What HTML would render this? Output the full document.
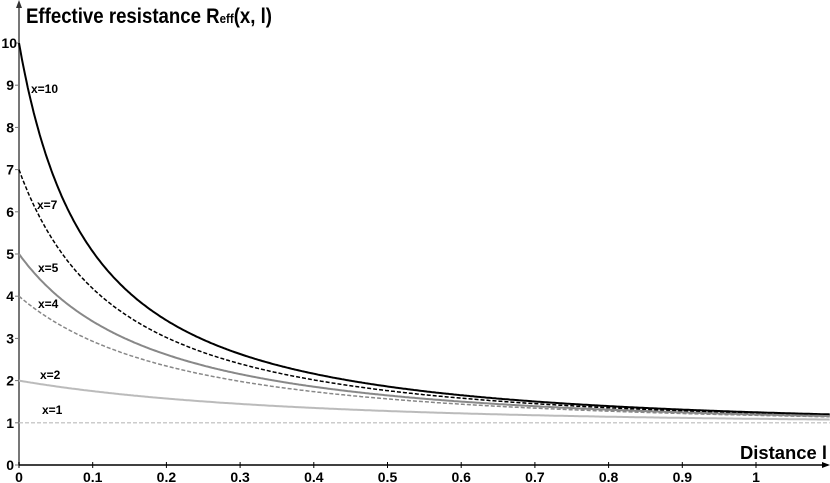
<!DOCTYPE html>
<html><head><meta charset="utf-8"><style>
html,body{margin:0;padding:0;background:#fff;}
svg{display:block;}
text{font-family:"Liberation Sans",Arial,sans-serif;font-weight:bold;}
</style></head><body>
<svg id="s" width="830" height="483" viewBox="0 0 830 483" xmlns="http://www.w3.org/2000/svg">
<line x1="19" y1="465" x2="19" y2="4" stroke="#777" stroke-width="2"/>
<polygon points="19,0 16,8 22,8" fill="#333"/>
<line x1="19" y1="465" x2="828" y2="465" stroke="#000" stroke-width="1.5"/>
<polygon points="830,465 822,462 822,468" fill="#000"/>
<text x="26" y="23" font-size="21" textLength="246" lengthAdjust="spacingAndGlyphs">Effective resistance R<tspan font-size="13">eff</tspan>(x, l)</text>
<text x="740" y="459" font-size="18" textLength="87" lengthAdjust="spacingAndGlyphs">Distance l</text>
<g id="ticks" font-size="14"></g>
<g id="curves" fill="none"></g>
<g font-size="12">
<text x="31" y="93">x=10</text>
<text x="37" y="209">x=7</text>
<text x="38" y="272">x=5</text>
<text x="38" y="308">x=4</text>
<text x="40" y="379">x=2</text>
<text x="42" y="414">x=1</text>
</g>
</svg>
<script>
function X(l){return 19+737*l;} function Y(r){return 465-42.2*r;}
var t=document.getElementById("ticks"),h="";
for(var i=0;i<=10;i++){var y=Y(i);h+='<line x1="15" x2="19" y1="'+y+'" y2="'+y+'" stroke="#777"/>';
h+='<text x="'+(i==10?17:14)+'" y="'+(y+5)+'" text-anchor="end">'+i+'</text>';}
for(var i=0;i<=10;i++){var x=X(i/10);h+='<line x1="'+x+'" x2="'+x+'" y1="462" y2="468" stroke="#000"/>';
var lab=i==0?"0":(i==10?"1":"0."+i);h+='<text x="'+x+'" y="482" text-anchor="middle">'+lab+'</text>';}
t.innerHTML=h;
var cs=[[10,"#000",2,""],[7,"#000",1.5,"4,2"],[5,"#888",2,""],[4,"#888",1.5,"4,2"],[2,"#bbb",2,""],[1,"#bbb",1.2,"4,2"]];
var c=document.getElementById("curves"),o="";
cs.forEach(function(s){var p="";for(var l=0;l<=1.101;l+=0.002){var th=Math.tanh(l);var r=(s[0]+th)/(1+s[0]*th);p+=(p?"L":"M")+X(l).toFixed(1)+","+Y(r).toFixed(1);}
o+='<path d="'+p+'" stroke="'+s[1]+'" stroke-width="'+s[2]+'"'+(s[3]?' stroke-dasharray="'+s[3]+'"':'')+'/>';});
c.innerHTML=o;
</script>
</body></html>
